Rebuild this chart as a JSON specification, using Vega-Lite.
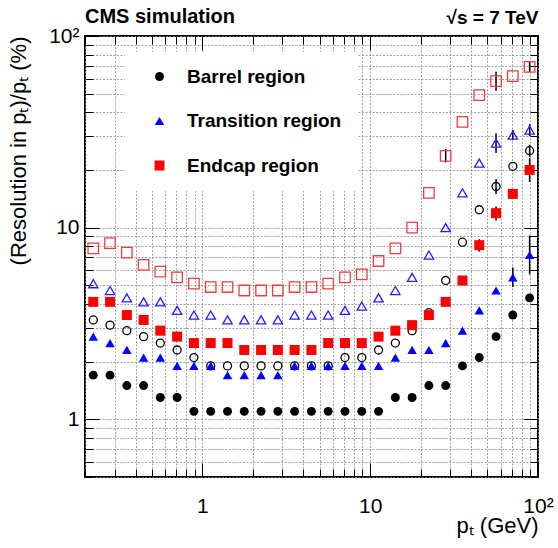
{
  "$schema": "https://vega.github.io/schema/vega-lite/v6.json",
  "width": 453,
  "height": 441,
  "autosize": {"type": "none"},
  "padding": {"left": 85, "top": 36, "right": 20, "bottom": 71},
  "background": "white",
  "config": {
    "font": "Liberation Sans",
    "view": {"stroke": "black", "strokeWidth": 2},
    "axis": {"labelColor": "black", "titleColor": "black", "tickColor": "black", "labelFont": "Liberation Sans", "titleFont": "Liberation Sans"}
  },
  "title": {"text": "CMS simulation", "anchor": "start", "frame": "group", "fontSize": 20, "fontWeight": "bold", "color": "black", "offset": -18},
  "datasets": {
    "filled": [
      {"pt": 0.224, "Barrel region": 1.7, "Transition region": 2.7, "Endcap region": 4.1},
      {"pt": 0.282, "Barrel region": 1.7, "Transition region": 2.5, "Endcap region": 4.1},
      {"pt": 0.355, "Barrel region": 1.5, "Transition region": 2.3, "Endcap region": 3.5},
      {"pt": 0.447, "Barrel region": 1.5, "Transition region": 2.1, "Endcap region": 3.3},
      {"pt": 0.562, "Barrel region": 1.3, "Transition region": 2.1, "Endcap region": 2.9},
      {"pt": 0.708, "Barrel region": 1.3, "Transition region": 1.9, "Endcap region": 2.7},
      {"pt": 0.891, "Barrel region": 1.1, "Transition region": 1.9, "Endcap region": 2.5},
      {"pt": 1.122, "Barrel region": 1.1, "Transition region": 1.9, "Endcap region": 2.5},
      {"pt": 1.413, "Barrel region": 1.1, "Transition region": 1.7, "Endcap region": 2.5},
      {"pt": 1.778, "Barrel region": 1.1, "Transition region": 1.7, "Endcap region": 2.3},
      {"pt": 2.239, "Barrel region": 1.1, "Transition region": 1.7, "Endcap region": 2.3},
      {"pt": 2.818, "Barrel region": 1.1, "Transition region": 1.7, "Endcap region": 2.3},
      {"pt": 3.548, "Barrel region": 1.1, "Transition region": 1.9, "Endcap region": 2.3},
      {"pt": 4.467, "Barrel region": 1.1, "Transition region": 1.9, "Endcap region": 2.3},
      {"pt": 5.623, "Barrel region": 1.1, "Transition region": 1.9, "Endcap region": 2.5},
      {"pt": 7.079, "Barrel region": 1.1, "Transition region": 1.9, "Endcap region": 2.5},
      {"pt": 8.913, "Barrel region": 1.1, "Transition region": 1.9, "Endcap region": 2.5},
      {"pt": 11.22, "Barrel region": 1.1, "Transition region": 1.9, "Endcap region": 2.7},
      {"pt": 14.13, "Barrel region": 1.3, "Transition region": 2.1, "Endcap region": 2.9},
      {"pt": 17.78, "Barrel region": 1.3, "Transition region": 2.3, "Endcap region": 3.1},
      {"pt": 22.39, "Barrel region": 1.5, "Transition region": 2.3, "Endcap region": 3.5},
      {"pt": 28.18, "Barrel region": 1.5, "Transition region": 2.5, "Endcap region": 4.1},
      {"pt": 35.48, "Barrel region": 1.9, "Transition region": 2.9, "Endcap region": 5.3},
      {"pt": 44.67, "Barrel region": 2.1, "Transition region": 3.7, "Endcap region": 8.1},
      {"pt": 56.23, "Barrel region": 2.7, "Transition region": 4.7, "Endcap region": 11.9},
      {"pt": 70.79, "Barrel region": 3.5, "Transition region": 5.5, "Endcap region": 15.0},
      {"pt": 89.13, "Barrel region": 4.3, "Transition region": 7.2, "Endcap region": 20.0}
    ],
    "open": [
      {"pt": 0.224, "Barrel region": 3.3, "Transition region": 5.1, "Endcap region": 7.8},
      {"pt": 0.282, "Barrel region": 3.1, "Transition region": 4.7, "Endcap region": 8.3},
      {"pt": 0.355, "Barrel region": 2.9, "Transition region": 4.3, "Endcap region": 7.4},
      {"pt": 0.447, "Barrel region": 2.7, "Transition region": 4.1, "Endcap region": 6.4},
      {"pt": 0.562, "Barrel region": 2.5, "Transition region": 4.1, "Endcap region": 5.9},
      {"pt": 0.708, "Barrel region": 2.3, "Transition region": 3.7, "Endcap region": 5.5},
      {"pt": 0.891, "Barrel region": 2.1, "Transition region": 3.5, "Endcap region": 5.1},
      {"pt": 1.122, "Barrel region": 1.9, "Transition region": 3.5, "Endcap region": 4.9},
      {"pt": 1.413, "Barrel region": 1.9, "Transition region": 3.3, "Endcap region": 4.9},
      {"pt": 1.778, "Barrel region": 1.9, "Transition region": 3.3, "Endcap region": 4.7},
      {"pt": 2.239, "Barrel region": 1.9, "Transition region": 3.3, "Endcap region": 4.7},
      {"pt": 2.818, "Barrel region": 1.9, "Transition region": 3.3, "Endcap region": 4.7},
      {"pt": 3.548, "Barrel region": 1.9, "Transition region": 3.5, "Endcap region": 4.9},
      {"pt": 4.467, "Barrel region": 1.9, "Transition region": 3.5, "Endcap region": 4.9},
      {"pt": 5.623, "Barrel region": 1.9, "Transition region": 3.5, "Endcap region": 5.1},
      {"pt": 7.079, "Barrel region": 2.1, "Transition region": 3.7, "Endcap region": 5.5},
      {"pt": 8.913, "Barrel region": 2.1, "Transition region": 3.9, "Endcap region": 5.7},
      {"pt": 11.22, "Barrel region": 2.3, "Transition region": 4.3, "Endcap region": 6.7},
      {"pt": 14.13, "Barrel region": 2.5, "Transition region": 4.7, "Endcap region": 7.8},
      {"pt": 17.78, "Barrel region": 2.9, "Transition region": 5.5, "Endcap region": 10.0},
      {"pt": 22.39, "Barrel region": 3.6, "Transition region": 7.2, "Endcap region": 15.2},
      {"pt": 28.18, "Barrel region": 5.3, "Transition region": 10.0, "Endcap region": 23.7},
      {"pt": 35.48, "Barrel region": 8.4, "Transition region": 15.2, "Endcap region": 35.6},
      {"pt": 44.67, "Barrel region": 12.4, "Transition region": 21.7, "Endcap region": 49.1},
      {"pt": 56.23, "Barrel region": 16.4, "Transition region": 27.6, "Endcap region": 58.1},
      {"pt": 70.79, "Barrel region": 20.9, "Transition region": 30.4, "Endcap region": 61.7},
      {"pt": 89.13, "Barrel region": 25.2, "Transition region": 32.3, "Endcap region": 69.0}
    ],
    "errors": [
      {"pt": 28.18, "lo": 21.9, "hi": 25.7},
      {"pt": 44.67, "lo": 7.5, "hi": 8.7},
      {"pt": 56.23, "lo": 51.8, "hi": 65.1},
      {"pt": 56.23, "lo": 24.5, "hi": 31.1},
      {"pt": 56.23, "lo": 15.0, "hi": 17.9},
      {"pt": 56.23, "lo": 10.9, "hi": 12.9},
      {"pt": 70.79, "lo": 28.6, "hi": 32.3},
      {"pt": 70.79, "lo": 14.2, "hi": 15.9},
      {"pt": 70.79, "lo": 4.9, "hi": 6.2},
      {"pt": 89.13, "lo": 64.9, "hi": 73.3},
      {"pt": 89.13, "lo": 30.0, "hi": 34.7},
      {"pt": 89.13, "lo": 23.4, "hi": 27.1},
      {"pt": 89.13, "lo": 17.3, "hi": 23.1},
      {"pt": 89.13, "lo": 5.7, "hi": 9.1}
    ]
  },
  "layer": [
    {
      "data": {"name": "errors"},
      "mark": {"type": "rule", "color": "black", "strokeWidth": 1.5},
      "encoding": {
        "x": {"field": "pt", "type": "quantitative", "scale": {"type": "log", "domain": [0.2, 100], "nice": false}, "axis": null},
        "y": {"field": "lo", "type": "quantitative", "scale": {"type": "log", "domain": [0.5, 100], "nice": false}, "axis": null},
        "y2": {"field": "hi"}
      }
    },
    {
      "data": {"name": "open"},
      "transform": [{"fold": ["Barrel region", "Transition region", "Endcap region"], "as": ["region", "res"]}],
      "mark": {"type": "point", "filled": false, "strokeWidth": 1.3, "opacity": 1},
      "encoding": {
        "x": {"field": "pt", "type": "quantitative", "scale": {"type": "log", "domain": [0.2, 100], "nice": false},
          "axis": {"orient": "top", "values": [0.2,0.3,0.4,0.5,0.6,0.7,0.8,0.9,1,2,3,4,5,6,7,8,9,10,20,30,40,50,60,70,80,90,100],
            "labels": false, "grid": false, "domain": false, "tickWidth": 1,
            "tickSize": {"condition": {"test": "datum.value==1||datum.value==10||datum.value==100", "value": -14}, "value": -8},
            "title": "√s = 7 TeV", "titleAnchor": "end", "titleFontSize": 19, "titleFontWeight": "bold", "titlePadding": 8}},
        "y": {"field": "res", "type": "quantitative", "scale": {"type": "log", "domain": [0.5, 100], "nice": false},
          "axis": {"orient": "right", "values": [0.5,0.6,0.7,0.8,0.9,1,2,3,4,5,6,7,8,9,10,20,30,40,50,60,70,80,90,100],
            "labels": false, "grid": false, "domain": false, "tickWidth": 1,
            "tickSize": {"condition": {"test": "datum.value==1||datum.value==10||datum.value==100", "value": -14}, "value": -8},
            "title": null}},
        "color": {"field": "region", "type": "nominal", "scale": {"domain": ["Barrel region", "Transition region", "Endcap region"], "range": ["#000000", "#2020ff", "#f03c3c"]}, "legend": null},
        "shape": {"field": "region", "type": "nominal", "scale": {"domain": ["Barrel region", "Transition region", "Endcap region"], "range": ["circle", "triangle-up", "square"]}, "legend": null},
        "size": {"field": "region", "type": "nominal", "scale": {"domain": ["Barrel region", "Transition region", "Endcap region"], "range": [64, 110, 100]}, "legend": null}
      }
    },
    {
      "data": {"name": "filled"},
      "transform": [{"fold": ["Barrel region", "Transition region", "Endcap region"], "as": ["region", "res"]}],
      "mark": {"type": "point", "filled": true, "opacity": 1},
      "encoding": {
        "x": {"field": "pt", "type": "quantitative", "scale": {"type": "log", "domain": [0.2, 100], "nice": false},
          "axis": {"orient": "bottom", "values": [0.2,0.3,0.4,0.5,0.6,0.7,0.8,0.9,1,2,3,4,5,6,7,8,9,10,20,30,40,50,60,70,80,90,100],
            "labelExpr": "datum.value==1 ? '1' : datum.value==10 ? '10' : datum.value==100 ? '10²' : ''",
            "labelFlush": false, "labelOverlap": false, "labelFontSize": 21, "labelPadding": 32,
            "grid": true, "gridColor": "#8a8a8a", "gridDash": [2, 1.5], "gridWidth": 0.8,
            "domain": false, "tickWidth": 1,
            "tickSize": {"condition": {"test": "datum.value==1||datum.value==10||datum.value==100", "value": -14}, "value": -8},
            "title": "pₜ (GeV)", "titleAnchor": "end", "titleFontSize": 22, "titleFontWeight": "normal", "titlePadding": -7}},
        "y": {"field": "res", "type": "quantitative", "scale": {"type": "log", "domain": [0.5, 100], "nice": false},
          "axis": {"orient": "left", "values": [0.5,0.6,0.7,0.8,0.9,1,2,3,4,5,6,7,8,9,10,20,30,40,50,60,70,80,90,100],
            "labelExpr": "datum.value==1 ? '1' : datum.value==10 ? '10' : datum.value==100 ? '10²' : ''",
            "labelOverlap": false, "labelFlush": false, "labelFontSize": 21, "labelPadding": 20,
            "grid": true, "gridColor": "#8a8a8a", "gridDash": [2, 1.5], "gridWidth": 0.8,
            "domain": false, "tickWidth": 1,
            "tickSize": {"condition": {"test": "datum.value==1||datum.value==10||datum.value==100", "value": -14}, "value": -8},
            "title": "(Resolution in pₜ)/pₜ (%)", "titleAnchor": "end", "titleFontSize": 22, "titleFontWeight": "normal", "titlePadding": 18}},
        "color": {"field": "region", "type": "nominal", "scale": {"domain": ["Barrel region", "Transition region", "Endcap region"], "range": ["#000000", "#0000ff", "#ff0000"]},
          "legend": {"title": null, "orient": "none", "legendX": 40, "legendY": 16, "fillColor": "white", "padding": 15, "symbolOffset": 10, "labelOffset": 18, "rowPadding": 24.5, "labelFontSize": 19, "labelFontWeight": "bold", "labelFont": "Liberation Sans", "labelColor": "black", "symbolSize": 95, "symbolStrokeWidth": 0}},
        "shape": {"field": "region", "type": "nominal", "scale": {"domain": ["Barrel region", "Transition region", "Endcap region"], "range": ["circle", "triangle-up", "square"]},
          "legend": {"title": null, "orient": "none", "legendX": 40, "legendY": 16, "fillColor": "white", "padding": 15, "symbolOffset": 10, "labelOffset": 18, "rowPadding": 24.5, "labelFontSize": 19, "labelFontWeight": "bold", "labelFont": "Liberation Sans", "labelColor": "black", "symbolSize": 95, "symbolStrokeWidth": 0}},
        "size": {"field": "region", "type": "nominal", "scale": {"domain": ["Barrel region", "Transition region", "Endcap region"], "range": [80, 100, 90]}, "legend": null}
      }
    }
  ],
  "resolve": {"scale": {"color": "independent", "shape": "independent", "size": "independent"}, "axis": {"x": "independent", "y": "independent"}}
}
